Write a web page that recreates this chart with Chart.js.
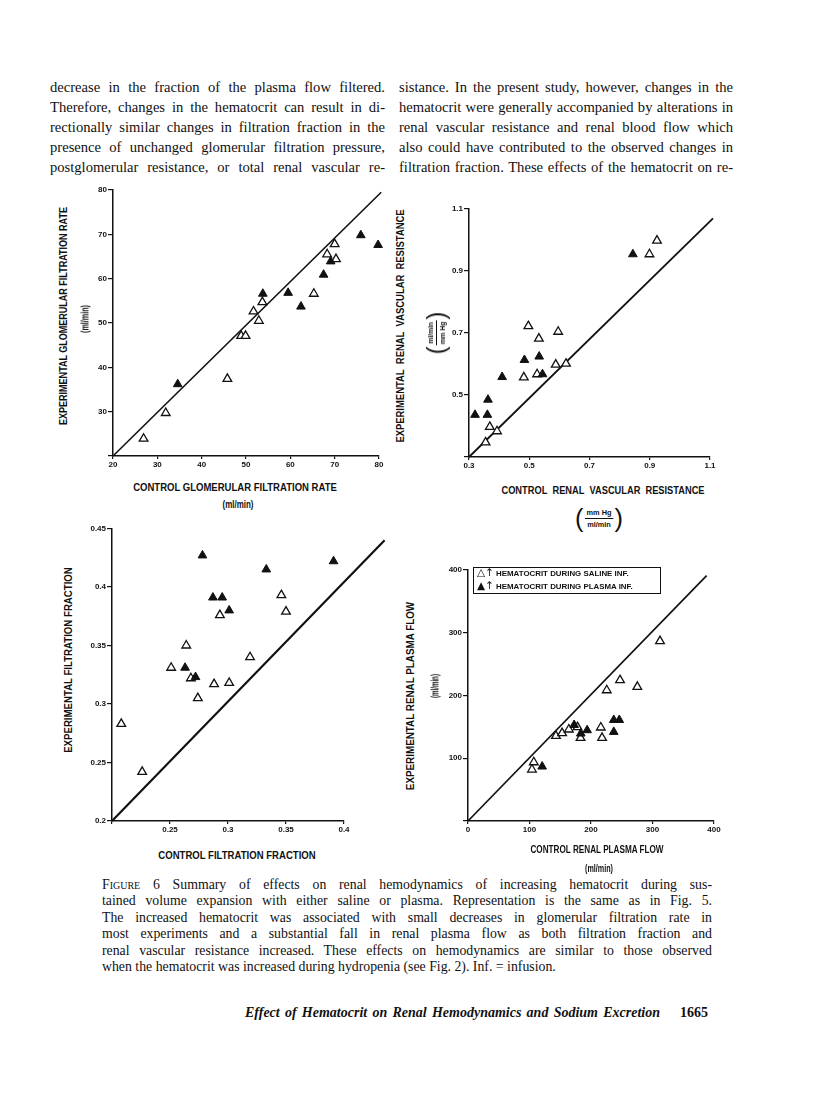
<!DOCTYPE html>
<html>
<head>
<meta charset="utf-8">
<script src="https://cdn.jsdelivr.net/npm/chart.js@4.4.1/dist/chart.umd.min.js"></script>
<style>
    body { margin: 0; background: #fff; }
    #page { position: relative; width: 816px; height: 1100px; overflow: hidden; color: #111; }
    .ln { position: absolute; white-space: nowrap; font-family: "Liberation Serif", serif; }
    .body { font-size: 14.6px; line-height: 20px; }
    .cap { font-size: 13.8px; line-height: 16px; }
    .foot { font-size: 14px; line-height: 18px; font-style: italic; font-weight: bold; }
    canvas { position: absolute; }
    .lab { position: absolute; white-space: nowrap; font-family: "Liberation Sans", sans-serif;
           font-weight: bold; font-size: 10px; line-height: 11px; color: #111; }
    .frac { position: absolute; display: flex; align-items: center; font-family: "Liberation Sans", sans-serif;
            font-weight: bold; font-size: 7.5px; line-height: 9px; color: #111; white-space: nowrap; }
    .frac .par { font-family: "Liberation Sans", sans-serif; font-weight: normal; font-size: 26px; line-height: 26px; }
    .frac .fr { display: flex; flex-direction: column; align-items: center; padding: 0 1px; }
    .frac .num { border-bottom: 1px solid #111; padding: 0 2px 1px 2px; }
    .frac .den { padding-top: 1px; }
    #legend { position: absolute; left: 473px; top: 567px; width: 183px; height: 25px; border: 1.5px solid #111;
              font-family: "Liberation Sans", sans-serif; font-weight: bold; font-size: 7.9px; line-height: 12px;
              padding: 0 0 0 3px; white-space: nowrap; color: #111; }
    #legend div { height: 12.5px; }
    #legend .sym { font-family: "DejaVu Sans", sans-serif; font-size: 10.5px; line-height: 8px; font-weight: normal; }
</style>
</head>
<body>
<div id="page">
    <canvas id="gfrChart" width="305" height="300" style="left:85px;top:180px"></canvas>
    <canvas id="rvrChart" width="283" height="281" style="left:437px;top:199px"></canvas>
    <canvas id="ffChart" width="320" height="325" style="left:80px;top:518px"></canvas>
    <canvas id="rpfChart" width="289" height="285" style="left:436px;top:560px"></canvas>
    <div id="legend">
        <div><span class="sym">△↑</span> HEMATOCRIT DURING SALINE INF.</div>
        <div><span class="sym">▲↑</span> HEMATOCRIT DURING PLASMA INF.</div>
    </div>
</div>
<script>
// panel A: glomerular filtration rate (ml/min)
var gfrTicks = [20, 30, 40, 50, 60, 70, 80];
var gfrSalineX = [26.9, 31.9, 45.8, 48.9, 49.9, 51.7, 52.9, 53.7, 65.3, 68.3, 70.0, 70.3];
var gfrSalineY = [23.9, 29.7, 37.4, 47.1, 47.1, 52.6, 50.5, 54.7, 56.6, 65.5, 67.8, 64.4];
var gfrPlasmaX = [34.6, 53.8, 59.5, 62.4, 67.5, 69.1, 75.9, 79.8];
var gfrPlasmaY = [36.2, 56.6, 56.8, 53.7, 60.9, 63.9, 69.8, 67.6];
var gfrLineX = [20, 80.5];
var gfrLineY = [20, 79.5];

// panel B: renal vascular resistance
var rvrTicks = [0.3, 0.5, 0.7, 0.9, 1.1];
var rvrSalineX = [0.355, 0.369, 0.393, 0.497, 0.532, 0.596, 0.482, 0.526, 0.588, 0.622, 0.899, 0.924];
var rvrSalineY = [0.347, 0.397, 0.383, 0.722, 0.682, 0.704, 0.557, 0.567, 0.598, 0.601, 0.954, 0.998];
var rvrPlasmaX = [0.320, 0.361, 0.363, 0.410, 0.484, 0.533, 0.544, 0.844];
var rvrPlasmaY = [0.436, 0.436, 0.485, 0.558, 0.613, 0.624, 0.567, 0.954];
var rvrLineX = [0.3, 1.11];
var rvrLineY = [0.3, 1.07];

// panel C: filtration fraction
var ffTicksX = [0.2, 0.25, 0.3, 0.35, 0.4];
var ffTicksY = [0.2, 0.25, 0.3, 0.35, 0.4, 0.45];
var ffSalineX = [0.208, 0.226, 0.251, 0.264, 0.268, 0.274, 0.288, 0.293, 0.301, 0.319, 0.346, 0.350];
var ffSalineY = [0.283, 0.242, 0.331, 0.350, 0.322, 0.305, 0.317, 0.376, 0.318, 0.340, 0.393, 0.379];
var ffPlasmaX = [0.263, 0.272, 0.278, 0.287, 0.295, 0.301, 0.333, 0.391];
var ffPlasmaY = [0.331, 0.323, 0.427, 0.391, 0.391, 0.380, 0.415, 0.422];
var ffLineX = [0.2, 0.435];
var ffLineY = [0.2, 0.44];

// panel D: renal plasma flow (ml/min)
var rpfTicks = [0, 100, 200, 300, 400];
var rpfSalineX = [104, 107, 143, 153, 164, 178, 183, 216, 218, 225.6, 247.2, 275.3, 312.2];
var rpfSalineY = [82, 93.6, 135.6, 140, 145.8, 149.5, 132.4, 149, 132.4, 208.4, 224.4, 213.7, 286.6];
var rpfPlasmaX = [120.6, 172.6, 183.4, 193.7, 237, 237, 246];
var rpfPlasmaY = [86.8, 153, 139.4, 144.7, 161, 142, 161];
var rpfLineX = [0, 388];
var rpfLineY = [0, 391];

var leftLines = [
    "decrease in the fraction of the plasma flow filtered.",
    "Therefore, changes in the hematocrit can result in di-",
    "rectionally similar changes in filtration fraction in the",
    "presence of unchanged glomerular filtration pressure,",
    "postglomerular resistance, or total renal vascular re-"
];
var rightLines = [
    "sistance. In the present study, however, changes in the",
    "hematocrit were generally accompanied by alterations in",
    "renal vascular resistance and renal blood flow which",
    "also could have contributed to the observed changes in",
    "filtration fraction. These effects of the hematocrit on re-"
];
var captionLines = [
    "<span style=\"font-variant:small-caps\">Figure</span> 6 Summary of effects on renal hemodynamics of increasing hematocrit during sus-",
    "tained volume expansion with either saline or plasma. Representation is the same as in Fig. 5.",
    "The increased hematocrit was associated with small decreases in glomerular filtration rate in",
    "most experiments and a substantial fall in renal plasma flow as both filtration fraction and",
    "renal vascular resistance increased. These effects on hemodynamics are similar to those observed",
    "when the hematocrit was increased during hydropenia (see Fig. 2). Inf. = infusion."
];

var page = document.getElementById("page");

function addLine(cls, html, left, cy, lh, width) {
    var el = document.createElement("div");
    el.className = "ln " + cls;
    el.innerHTML = html;
    el.style.left = left + "px";
    el.style.top = (cy - lh / 2) + "px";
    page.appendChild(el);
    if (width) {
        var nat = el.getBoundingClientRect().width;
        var n = (el.textContent.match(/[ \u00a0]/g) || []).length;
        if (n) el.style.wordSpacing = ((width - nat) / n) + "px";
    }
    return el;
}

leftLines.forEach(function (t, i) { addLine("body", t, 50, 87 + i * 20, 20, 335); });
rightLines.forEach(function (t, i) { addLine("body", t, 399, 87 + i * 20, 20, 334); });
captionLines.forEach(function (t, i) {
    addLine("cap", t, 102, 885 + i * 16.4, 16, i < captionLines.length - 1 ? 610 : 0);
});
addLine("foot", "Effect of Hematocrit on Renal Hemodynamics and Sodium Excretion", 245, 1013, 18, 415);
addLine("foot", "1665", 680, 1013, 18, 0).style.fontStyle = "normal";

// axis titles, centred on (cx, cy), squeezed to width w
function addLabel(text, cx, cy, w, rot, cls) {
    var el = document.createElement("div");
    el.className = cls || "lab";
    el.innerHTML = text;
    el.style.left = cx + "px";
    el.style.top = cy + "px";
    page.appendChild(el);
    var k = w ? w / el.offsetWidth : 1;
    el.style.transform = "translate(-50%,-50%)" + (rot ? " rotate(-90deg)" : "") + " scaleX(" + k + ")";
    return el;
}
function frac(num, den) {
    return '<span class="par">(</span><span class="fr"><span class="num">' + num +
        '</span><span class="den">' + den + '</span></span><span class="par">)</span>';
}

addLabel("EXPERIMENTAL GLOMERULAR FILTRATION RATE", 63, 316, 218, true);
addLabel("(ml/min)", 85, 319, 28, true);
addLabel("CONTROL GLOMERULAR FILTRATION RATE", 235, 487, 204, false);
addLabel("(ml/min)", 238, 504, 31, false);

addLabel("EXPERIMENTAL&nbsp; RENAL&nbsp; VASCULAR&nbsp; RESISTANCE", 400, 326, 233, true);
addLabel(frac("ml/min", "mm Hg"), 436, 333, 43, true, "frac");
addLabel("CONTROL&nbsp; RENAL&nbsp; VASCULAR&nbsp; RESISTANCE", 603, 490, 203, false);
addLabel(frac("mm Hg", "ml/min"), 599, 518, 48, false, "frac");

addLabel("EXPERIMENTAL FILTRATION FRACTION", 68, 660, 186, true);
addLabel("CONTROL FILTRATION FRACTION", 237, 855, 157, false);

addLabel("EXPERIMENTAL RENAL PLASMA FLOW", 410, 696, 188, true);
addLabel("(ml/min)", 435, 686, 24, true);
addLabel("CONTROL RENAL PLASMA FLOW", 597, 849, 133, false);
addLabel("(ml/min)", 599, 868, 28, false);

function pts(xs, ys) {
    return xs.map(function (x, i) { return {x: x, y: ys[i]}; });
}

function axis(ticks, hideFirst, horizontal, size, tickLen) {
    return {
        type: "linear",
        min: ticks[0],
        max: ticks[ticks.length - 1],
        afterBuildTicks: function (s) {
            s.ticks = ticks.map(function (v) { return {value: v}; });
        },
        afterFit: function (s) {
            if (horizontal) s.height = size; else s.width = size;
        },
        ticks: {
            color: "#111",
            font: {family: "Liberation Sans", weight: "bold", size: 8},
            padding: 1,
            maxRotation: 0,
            autoSkip: false,
            callback: function (v, i) {
                if (hideFirst && i === 0) return "";
                return String(ticks[i]);
            }
        },
        grid: {drawOnChartArea: false, color: "#111", lineWidth: 1.2, tickLength: tickLen},
        border: {color: "#111", width: 1.5}
    };
}

function panel(id, o) {
    var ctx = document.getElementById(id).getContext("2d");
    new Chart(ctx, {
        type: "scatter",
        data: {
            datasets: [{
                label: "Line of identity",
                data: pts(o.lineX, o.lineY),
                showLine: true,
                borderColor: "#111",
                borderWidth: o.lineWidth,
                pointRadius: 0,
                clip: false,
                order: 3
            }, {
                label: "\u2191 Hematocrit during saline inf.",
                data: pts(o.salX, o.salY),
                pointStyle: "triangle",
                pointRadius: 5,
                pointBackgroundColor: "#fff",
                pointBorderColor: "#111",
                pointBorderWidth: 1.3,
                clip: false,
                order: 2
            }, {
                label: "\u2191 Hematocrit during plasma inf.",
                data: pts(o.plaX, o.plaY),
                pointStyle: "triangle",
                pointRadius: 5,
                pointBackgroundColor: "#111",
                pointBorderColor: "#111",
                pointBorderWidth: 1,
                clip: false,
                order: 1
            }]
        },
        options: {
            responsive: false,
            animation: false,
            devicePixelRatio: 1,
            layout: {padding: o.pad},
            plugins: {legend: {display: false}, tooltip: {enabled: false}},
            scales: {
                x: axis(o.xTicks, o.hideX, true, o.xH, 3),
                y: axis(o.yTicks, o.hideY, false, o.yW, 5)
            }
        }
    });
}

panel("gfrChart", {
    xTicks: gfrTicks, yTicks: gfrTicks, hideX: false, hideY: true,
    salX: gfrSalineX, salY: gfrSalineY, plaX: gfrPlasmaX, plaY: gfrPlasmaY,
    lineX: gfrLineX, lineY: gfrLineY, lineWidth: 1.6,
    xH: 24, yW: 28, pad: {top: 10, right: 11, left: 0, bottom: 0}
});
panel("rvrChart", {
    xTicks: rvrTicks, yTicks: rvrTicks, hideX: false, hideY: true,
    salX: rvrSalineX, salY: rvrSalineY, plaX: rvrPlasmaX, plaY: rvrPlasmaY,
    lineX: rvrLineX, lineY: rvrLineY, lineWidth: 1.8,
    xH: 23, yW: 32, pad: {top: 10, right: 10, left: 0, bottom: 0}
});
panel("ffChart", {
    xTicks: ffTicksX, yTicks: ffTicksY, hideX: true, hideY: false,
    salX: ffSalineX, salY: ffSalineY, plaX: ffPlasmaX, plaY: ffPlasmaY,
    lineX: ffLineX, lineY: ffLineY, lineWidth: 2.2,
    xH: 22, yW: 32, pad: {top: 10.5, right: 56, left: 0, bottom: 0}
});
panel("rpfChart", {
    xTicks: rpfTicks, yTicks: rpfTicks, hideX: false, hideY: true,
    salX: rpfSalineX, salY: rpfSalineY, plaX: rpfPlasmaX, plaY: rpfPlasmaY,
    lineX: rpfLineX, lineY: rpfLineY, lineWidth: 1.7,
    xH: 24, yW: 32, pad: {top: 10, right: 11, left: 0, bottom: 0}
});
</script>
</body>
</html>
